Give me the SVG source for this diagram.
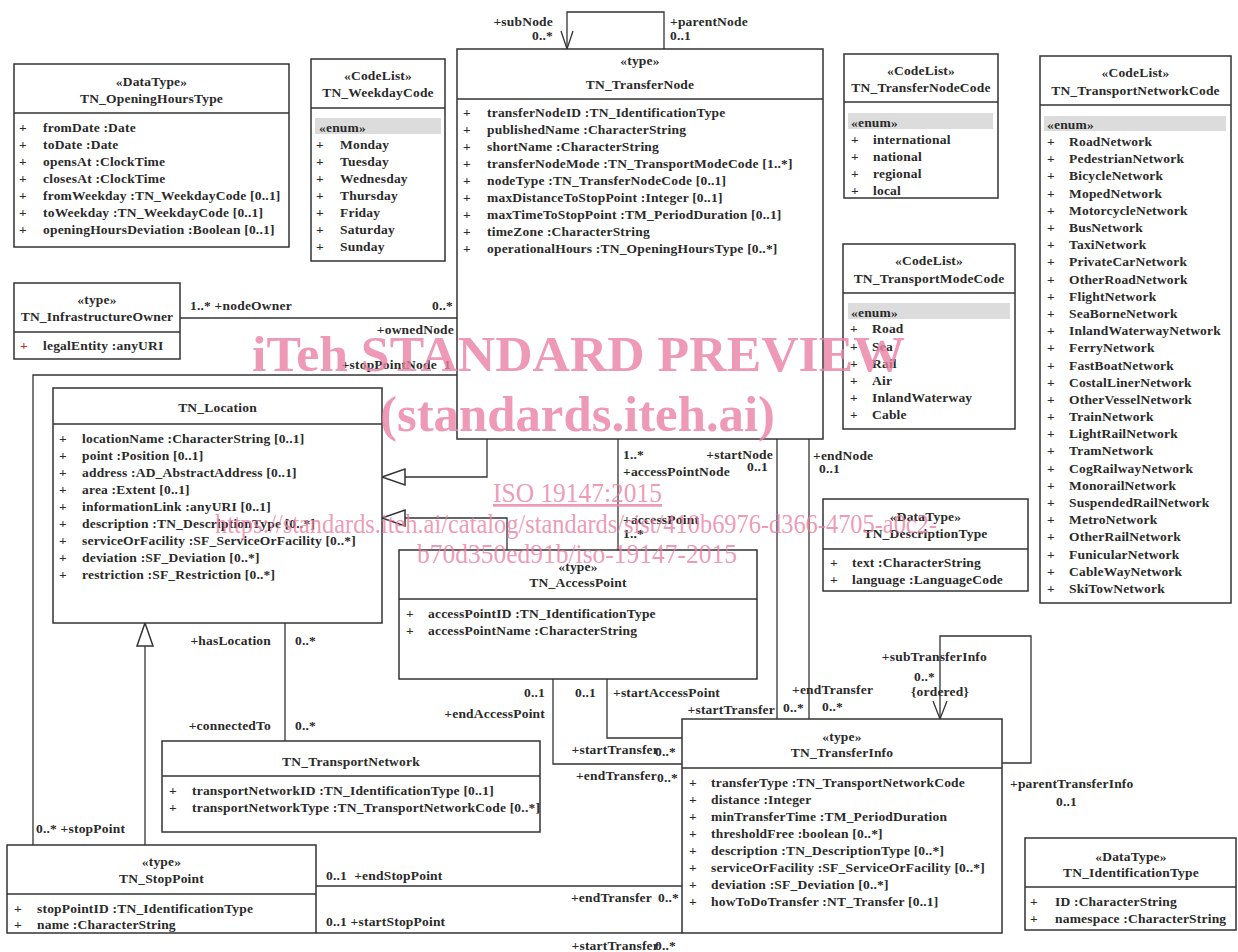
<svg xmlns="http://www.w3.org/2000/svg" width="1238" height="952" viewBox="0 0 1238 952">
<style>
text{font-family:"Liberation Serif","DejaVu Serif",serif;font-weight:bold;font-size:13.5px;letter-spacing:0.2px;fill:#2a2a2a}
.c{text-anchor:middle}
.e{text-anchor:end}
.box{fill:#fff;stroke:#333;stroke-width:1.5}
.dv{stroke:#333;stroke-width:1.5}
.ln{fill:none;stroke:#333;stroke-width:1.3}
.en{fill:#dcdcdc}
.gen{fill:#fff;stroke:#333;stroke-width:1.5}
text.wm{font-family:"Liberation Serif",serif;fill:#ea7fa2;fill-opacity:0.8;letter-spacing:0}
text.wb{font-size:50px;font-weight:bold}
text.ws{font-size:27px;font-weight:normal}
</style>
<rect width="1238" height="952" fill="#fff"/>

<g id="connectors">
<polyline class="ln" points="567,49 567,12 664,12 664,49"/>
<polyline class="ln" points="561,31 567,49 573,31"/>
<line class="ln" x1="180" y1="318" x2="457" y2="318"/>
<polyline class="ln" points="457,375 33,375 33,845"/>
<polyline class="ln" points="487,439 487,477 405,477"/>
<polygon class="gen" points="382,477 405,469 405,485"/>
<polyline class="ln" points="507,550 507,518 405,518"/>
<polygon class="gen" points="382,518 405,510 405,526"/>
<line class="ln" x1="145" y1="845" x2="145" y2="646"/>
<polygon class="gen" points="145,623 137,646 153,646"/>
<line class="ln" x1="285" y1="623" x2="285" y2="741"/>
<line class="ln" x1="618" y1="439" x2="618" y2="550"/>
<line class="ln" x1="777" y1="439" x2="777" y2="719"/>
<line class="ln" x1="809" y1="439" x2="809" y2="719"/>
<polyline class="ln" points="553,679 553,764 682,764"/>
<polyline class="ln" points="607,679 607,738 682,738"/>
<line class="ln" x1="316" y1="886" x2="682" y2="886"/>
<line class="ln" x1="316" y1="933" x2="682" y2="933"/>
<polyline class="ln" points="940,719 940,636 1031,636 1031,763 1002,763"/>
<polyline class="ln" points="933,701 940,719 947,701"/>

<text class="e" x="553" y="26">+subNode</text>
<text class="e" x="553" y="40">0..*</text>
<text x="670" y="26">+parentNode</text>
<text x="670" y="40">0..1</text>
<text x="190" y="310">1..* +nodeOwner</text>
<text class="e" x="453" y="310">0..*</text>
<text class="e" x="454" y="334">+ownedNode</text>
<text class="e" x="451" y="369" xml:space="preserve">+stopPointNode  1</text>
<text x="36" y="833">0..* +stopPoint</text>
<text class="e" x="271" y="645">+hasLocation</text>
<text x="295" y="645">0..*</text>
<text class="e" x="271" y="730">+connectedTo</text>
<text x="295" y="730">0..*</text>
<text x="623" y="459">1..*</text>
<text x="623" y="476">+accessPointNode</text>
<text x="623" y="524">+accessPoint</text>
<text x="623" y="538">1..*</text>
<text class="e" x="773" y="459">+startNode</text>
<text class="e" x="768" y="471">0..1</text>
<text x="813" y="460">+endNode</text>
<text x="819" y="473">0..1</text>
<text class="e" x="775" y="714">+startTransfer</text>
<text x="783" y="712">0..*</text>
<text x="792" y="694">+endTransfer</text>
<text x="822" y="711">0..*</text>
<text class="e" x="545" y="697">0..1</text>
<text class="e" x="545" y="718">+endAccessPoint</text>
<text x="575" y="697">0..1</text>
<text x="613" y="697">+startAccessPoint</text>
<text class="e" x="659" y="754">+startTransfer</text>
<text x="655" y="756">0..*</text>
<text class="e" x="657" y="780">+endTransfer</text>
<text x="657" y="782">0..*</text>
<text x="326" y="880" xml:space="preserve">0..1  +endStopPoint</text>
<text class="e" x="652" y="902">+endTransfer</text>
<text x="658" y="902">0..*</text>
<text x="326" y="926">0..1 +startStopPoint</text>
<text class="e" x="659" y="950">+startTransfer</text>
<text x="655" y="950">0..*</text>
<text class="e" x="987" y="661">+subTransferInfo</text>
<text class="e" x="935" y="681">0..*</text>
<text class="c" x="940" y="696">{ordered}</text>
<text x="1010" y="788">+parentTransferInfo</text>
<text x="1056" y="806">0..1</text>
</g>

<g id="TN_OpeningHoursType">
<rect class="box" x="14" y="64" width="275" height="183"/>
<line class="dv" x1="14" y1="113" x2="289" y2="113"/>
<text class="c" x="151.5" y="86">«DataType»</text>
<text class="c" x="151.5" y="103">TN_OpeningHoursType</text>
<text x="19" y="132">+</text><text x="43" y="132">fromDate :Date</text>
<text x="19" y="149">+</text><text x="43" y="149">toDate :Date</text>
<text x="19" y="166">+</text><text x="43" y="166">opensAt :ClockTime</text>
<text x="19" y="183">+</text><text x="43" y="183">closesAt :ClockTime</text>
<text x="19" y="200">+</text><text x="43" y="200">fromWeekday :TN_WeekdayCode [0..1]</text>
<text x="19" y="217">+</text><text x="43" y="217">toWeekday :TN_WeekdayCode [0..1]</text>
<text x="19" y="234">+</text><text x="43" y="234">openingHoursDeviation :Boolean [0..1]</text>
</g>

<g id="TN_WeekdayCode">
<rect class="box" x="311" y="59" width="134" height="202"/>
<line class="dv" x1="311" y1="108" x2="445" y2="108"/>
<text class="c" x="378" y="80">«CodeList»</text>
<text class="c" x="378" y="97">TN_WeekdayCode</text>
<rect class="en" x="315" y="118" width="126" height="16"/>
<text x="319" y="132">«enum»</text>
<text x="316" y="149">+</text><text x="340" y="149">Monday</text>
<text x="316" y="166">+</text><text x="340" y="166">Tuesday</text>
<text x="316" y="183">+</text><text x="340" y="183">Wednesday</text>
<text x="316" y="200">+</text><text x="340" y="200">Thursday</text>
<text x="316" y="217">+</text><text x="340" y="217">Friday</text>
<text x="316" y="234">+</text><text x="340" y="234">Saturday</text>
<text x="316" y="251">+</text><text x="340" y="251">Sunday</text>
</g>

<g id="TN_TransferNode">
<rect class="box" x="457" y="49" width="366" height="390"/>
<line class="dv" x1="457" y1="99" x2="823" y2="99"/>
<text class="c" x="640" y="65">«type»</text>
<text class="c" x="640" y="89">TN_TransferNode</text>
<text x="463" y="117">+</text><text x="487" y="117">transferNodeID :TN_IdentificationType</text>
<text x="463" y="134">+</text><text x="487" y="134">publishedName :CharacterString</text>
<text x="463" y="151">+</text><text x="487" y="151">shortName :CharacterString</text>
<text x="463" y="168">+</text><text x="487" y="168">transferNodeMode :TN_TransportModeCode [1..*]</text>
<text x="463" y="185">+</text><text x="487" y="185">nodeType :TN_TransferNodeCode [0..1]</text>
<text x="463" y="202">+</text><text x="487" y="202">maxDistanceToStopPoint :Integer [0..1]</text>
<text x="463" y="219">+</text><text x="487" y="219">maxTimeToStopPoint :TM_PeriodDuration [0..1]</text>
<text x="463" y="236">+</text><text x="487" y="236">timeZone :CharacterString</text>
<text x="463" y="253">+</text><text x="487" y="253">operationalHours :TN_OpeningHoursType [0..*]</text>
</g>

<g id="TN_TransferNodeCode">
<rect class="box" x="844" y="54" width="154" height="144"/>
<line class="dv" x1="844" y1="102" x2="998" y2="102"/>
<text class="c" x="921" y="75">«CodeList»</text>
<text class="c" x="921" y="92">TN_TransferNodeCode</text>
<rect class="en" x="848" y="113" width="145" height="16"/>
<text x="851" y="127">«enum»</text>
<text x="851" y="144">+</text><text x="873" y="144">international</text>
<text x="851" y="161">+</text><text x="873" y="161">national</text>
<text x="851" y="178">+</text><text x="873" y="178">regional</text>
<text x="851" y="195">+</text><text x="873" y="195">local</text>
</g>

<g id="TN_TransportModeCode">
<rect class="box" x="843" y="244" width="172" height="185"/>
<line class="dv" x1="843" y1="293" x2="1015" y2="293"/>
<text class="c" x="929" y="265">«CodeList»</text>
<text class="c" x="929" y="283">TN_TransportModeCode</text>
<rect class="en" x="848" y="303" width="162" height="16"/>
<text x="851" y="317">«enum»</text>
<text x="850" y="333">+</text><text x="872" y="333">Road</text>
<text x="850" y="351">+</text><text x="872" y="351">Sea</text>
<text x="850" y="368">+</text><text x="872" y="368">Rail</text>
<text x="850" y="385">+</text><text x="872" y="385">Air</text>
<text x="850" y="402">+</text><text x="872" y="402">InlandWaterway</text>
<text x="850" y="419">+</text><text x="872" y="419">Cable</text>
</g>

<g id="TN_TransportNetworkCode">
<rect class="box" x="1040" y="56" width="191" height="547"/>
<line class="dv" x1="1040" y1="105" x2="1231" y2="105"/>
<text class="c" x="1135.5" y="77">«CodeList»</text>
<text class="c" x="1135.5" y="95">TN_TransportNetworkCode</text>
<rect class="en" x="1044" y="116" width="182" height="15"/>
<text x="1047" y="129">«enum»</text>
<text x="1047" y="146">+</text><text x="1069" y="146">RoadNetwork</text>
<text x="1047" y="163">+</text><text x="1069" y="163">PedestrianNetwork</text>
<text x="1047" y="180">+</text><text x="1069" y="180">BicycleNetwork</text>
<text x="1047" y="198">+</text><text x="1069" y="198">MopedNetwork</text>
<text x="1047" y="215">+</text><text x="1069" y="215">MotorcycleNetwork</text>
<text x="1047" y="232">+</text><text x="1069" y="232">BusNetwork</text>
<text x="1047" y="249">+</text><text x="1069" y="249">TaxiNetwork</text>
<text x="1047" y="266">+</text><text x="1069" y="266">PrivateCarNetwork</text>
<text x="1047" y="284">+</text><text x="1069" y="284">OtherRoadNetwork</text>
<text x="1047" y="301">+</text><text x="1069" y="301">FlightNetwork</text>
<text x="1047" y="318">+</text><text x="1069" y="318">SeaBorneNetwork</text>
<text x="1047" y="335">+</text><text x="1069" y="335">InlandWaterwayNetwork</text>
<text x="1047" y="352">+</text><text x="1069" y="352">FerryNetwork</text>
<text x="1047" y="370">+</text><text x="1069" y="370">FastBoatNetwork</text>
<text x="1047" y="387">+</text><text x="1069" y="387">CostalLinerNetwork</text>
<text x="1047" y="404">+</text><text x="1069" y="404">OtherVesselNetwork</text>
<text x="1047" y="421">+</text><text x="1069" y="421">TrainNetwork</text>
<text x="1047" y="438">+</text><text x="1069" y="438">LightRailNetwork</text>
<text x="1047" y="455">+</text><text x="1069" y="455">TramNetwork</text>
<text x="1047" y="473">+</text><text x="1069" y="473">CogRailwayNetwork</text>
<text x="1047" y="490">+</text><text x="1069" y="490">MonorailNetwork</text>
<text x="1047" y="507">+</text><text x="1069" y="507">SuspendedRailNetwork</text>
<text x="1047" y="524">+</text><text x="1069" y="524">MetroNetwork</text>
<text x="1047" y="541">+</text><text x="1069" y="541">OtherRailNetwork</text>
<text x="1047" y="559">+</text><text x="1069" y="559">FunicularNetwork</text>
<text x="1047" y="576">+</text><text x="1069" y="576">CableWayNetwork</text>
<text x="1047" y="593">+</text><text x="1069" y="593">SkiTowNetwork</text>
</g>

<g id="TN_InfrastructureOwner">
<rect class="box" x="14" y="283" width="166" height="76"/>
<line class="dv" x1="14" y1="332" x2="180" y2="332"/>
<text class="c" x="97" y="304">«type»</text>
<text class="c" x="97" y="321">TN_InfrastructureOwner</text>
<text x="20" y="350" style="fill:#c62828">+</text><text x="43" y="350">legalEntity :anyURI</text>
</g>

<g id="TN_Location">
<rect class="box" x="53" y="388" width="329" height="235"/>
<line class="dv" x1="53" y1="424" x2="382" y2="424"/>
<text class="c" x="217.5" y="412">TN_Location</text>
<text x="59" y="443">+</text><text x="82" y="443">locationName :CharacterString [0..1]</text>
<text x="59" y="460">+</text><text x="82" y="460">point :Position [0..1]</text>
<text x="59" y="477">+</text><text x="82" y="477">address :AD_AbstractAddress [0..1]</text>
<text x="59" y="494">+</text><text x="82" y="494">area :Extent [0..1]</text>
<text x="59" y="511">+</text><text x="82" y="511">informationLink :anyURI [0..1]</text>
<text x="59" y="528">+</text><text x="82" y="528">description :TN_DescriptionType [0..*]</text>
<text x="59" y="545">+</text><text x="82" y="545">serviceOrFacility :SF_ServiceOrFacility [0..*]</text>
<text x="59" y="562">+</text><text x="82" y="562">deviation :SF_Deviation [0..*]</text>
<text x="59" y="579">+</text><text x="82" y="579">restriction :SF_Restriction [0..*]</text>
</g>

<g id="TN_AccessPoint">
<rect class="box" x="399" y="550" width="358" height="129"/>
<line class="dv" x1="399" y1="599" x2="757" y2="599"/>
<text class="c" x="578" y="571">«type»</text>
<text class="c" x="578" y="587">TN_AccessPoint</text>
<text x="406" y="618">+</text><text x="428" y="618">accessPointID :TN_IdentificationType</text>
<text x="406" y="635">+</text><text x="428" y="635">accessPointName :CharacterString</text>
</g>

<g id="TN_DescriptionType">
<rect class="box" x="823" y="499" width="205" height="92"/>
<line class="dv" x1="823" y1="549" x2="1028" y2="549"/>
<text class="c" x="925.5" y="521">«DataType»</text>
<text class="c" x="925.5" y="538">TN_DescriptionType</text>
<text x="830" y="567">+</text><text x="852" y="567">text :CharacterString</text>
<text x="830" y="584">+</text><text x="852" y="584">language :LanguageCode</text>
</g>

<g id="TN_TransportNetwork">
<rect class="box" x="162" y="741" width="378" height="91"/>
<line class="dv" x1="162" y1="776" x2="540" y2="776"/>
<text class="c" x="351" y="766">TN_TransportNetwork</text>
<text x="169" y="795">+</text><text x="192" y="795">transportNetworkID :TN_IdentificationType [0..1]</text>
<text x="169" y="812">+</text><text x="192" y="812">transportNetworkType :TN_TransportNetworkCode [0..*]</text>
</g>

<g id="TN_StopPoint">
<rect class="box" x="7" y="845" width="309" height="88"/>
<line class="dv" x1="7" y1="894" x2="316" y2="894"/>
<text class="c" x="161.5" y="866">«type»</text>
<text class="c" x="161.5" y="883">TN_StopPoint</text>
<text x="14" y="913">+</text><text x="37" y="913">stopPointID :TN_IdentificationType</text>
<text x="14" y="929">+</text><text x="37" y="929">name :CharacterString</text>
</g>

<g id="TN_TransferInfo">
<rect class="box" x="682" y="719" width="320" height="214"/>
<line class="dv" x1="682" y1="768" x2="1002" y2="768"/>
<text class="c" x="842" y="741">«type»</text>
<text class="c" x="842" y="757">TN_TransferInfo</text>
<text x="689" y="787">+</text><text x="711" y="787">transferType :TN_TransportNetworkCode</text>
<text x="689" y="804">+</text><text x="711" y="804">distance :Integer</text>
<text x="689" y="821">+</text><text x="711" y="821">minTransferTime :TM_PeriodDuration</text>
<text x="689" y="838">+</text><text x="711" y="838">thresholdFree :boolean [0..*]</text>
<text x="689" y="855">+</text><text x="711" y="855">description :TN_DescriptionType [0..*]</text>
<text x="689" y="872">+</text><text x="711" y="872">serviceOrFacility :SF_ServiceOrFacility [0..*]</text>
<text x="689" y="889">+</text><text x="711" y="889">deviation :SF_Deviation [0..*]</text>
<text x="689" y="906">+</text><text x="711" y="906">howToDoTransfer :NT_Transfer [0..1]</text>
</g>

<g id="TN_IdentificationType">
<rect class="box" x="1025" y="838" width="211" height="92"/>
<line class="dv" x1="1025" y1="887" x2="1236" y2="887"/>
<text class="c" x="1131" y="861">«DataType»</text>
<text class="c" x="1131" y="877">TN_IdentificationType</text>
<text x="1030" y="906">+</text><text x="1055" y="906">ID :CharacterString</text>
<text x="1030" y="923">+</text><text x="1055" y="923">namespace :CharacterString</text>
</g>

<g id="watermark">
<text class="wm wb" x="252" y="371" textLength="653" lengthAdjust="spacingAndGlyphs">iTeh STANDARD PREVIEW</text>
<text class="wm wb" x="380" y="431" textLength="395" lengthAdjust="spacingAndGlyphs">(standards.iteh.ai)</text>
<text class="wm ws" x="493" y="502" text-decoration="underline" textLength="169" lengthAdjust="spacingAndGlyphs">ISO 19147:2015</text>
<text class="wm ws" x="215" y="533" textLength="722" lengthAdjust="spacingAndGlyphs">https://standards.iteh.ai/catalog/standards/sist/410b6976-d366-4705-a0c2-</text>
<text class="wm ws" x="417" y="563" textLength="320" lengthAdjust="spacingAndGlyphs">b70d350ed91b/iso-19147-2015</text>
</g>
</svg>
